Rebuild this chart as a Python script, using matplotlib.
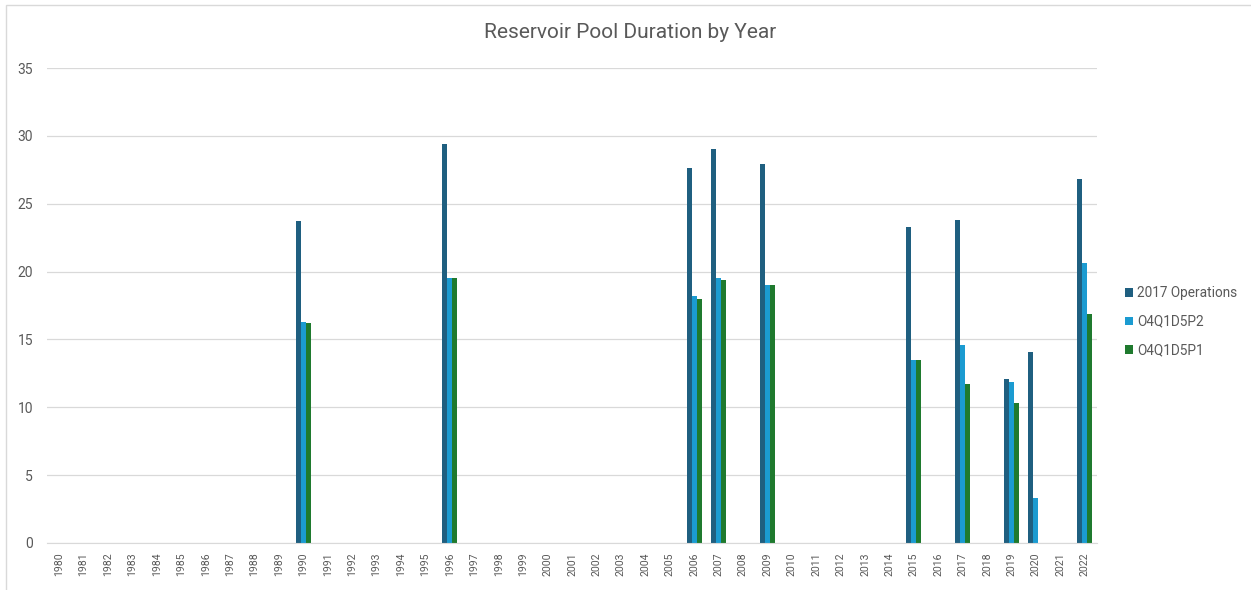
import matplotlib
matplotlib.use("Agg")
import matplotlib.pyplot as plt
from matplotlib.patches import Rectangle
import numpy as np

years = list(range(1980, 2023))

event_years = [1990, 1996, 2006, 2007, 2009, 2015, 2017, 2019, 2020, 2022]
ops_2017 = [23.7, 29.4, 27.6, 29.0, 27.9, 23.3, 23.8, 12.1, 14.1, 26.8]
o4q1d5p2 = [16.3, 19.5, 18.2, 19.5, 19.0, 13.5, 14.6, 11.9, 3.3, 20.6]
o4q1d5p1 = [16.2, 19.5, 18.0, 19.4, 19.0, 13.5, 11.7, 10.3, 0.0, 16.9]

series_names = ["2017 Operations", "O4Q1D5P2", "O4Q1D5P1"]
series_colors = ["#1f5f80", "#1b9bd1", "#1f7a2e"]

def expand(values):
    lookup = dict(zip(event_years, values))
    return [lookup.get(y, 0.0) for y in years]

series = [expand(ops_2017), expand(o4q1d5p2), expand(o4q1d5p1)]

plt.rcParams["font.family"] = ["Roboto", "DejaVu Sans"]

fig = plt.figure(figsize=(12.51, 5.90), dpi=100)
fig.patches.append(Rectangle((6 / 1251, -0.01), 1.02, 1 - 5 / 590 + 0.01,
                             transform=fig.transFigure, fill=False,
                             edgecolor="#d9d9d9", linewidth=1.0))

ax = fig.add_axes([47 / 1251, 1 - 543 / 590, (1097 - 47) / 1251, (543 - 68) / 590])

x = np.arange(len(years))
bw = 0.205
for i, (vals, name, col) in enumerate(zip(series, series_names, series_colors)):
    ax.bar(x + (i - 1) * bw, vals, width=bw, color=col, label=name, linewidth=0)

ax.set_xlim(-0.5, len(years) - 0.5)
ax.set_ylim(0, 35)
ax.set_yticks(range(0, 36, 5))
ax.set_xticks(x)
ax.set_xticklabels([str(y) for y in years], rotation=90, fontsize=7.6, color="#595959")
ax.tick_params(axis="y", labelsize=10, labelcolor="#595959", length=0, pad=10)
ax.tick_params(axis="x", length=0, pad=7)
ax.grid(axis="y", color="#d9d9d9", linewidth=0.9)
ax.set_axisbelow(True)
for s in ["top", "right", "left"]:
    ax.spines[s].set_visible(False)
ax.spines["bottom"].set_color("#d9d9d9")

fig.text(630 / 1251, 1 - 33 / 590, "Reservoir Pool Duration by Year",
         ha="center", va="center", fontsize=15, color="#595959")

leg = ax.legend(loc="center left", bbox_to_anchor=(1.015, 0.466), frameon=False,
                fontsize=9.8, handlelength=0.6, handleheight=0.6,
                handletextpad=0.3, labelspacing=1.07)
for t in leg.get_texts():
    t.set_color("#595959")

fig.savefig("out.png", dpi=100, facecolor="white")
